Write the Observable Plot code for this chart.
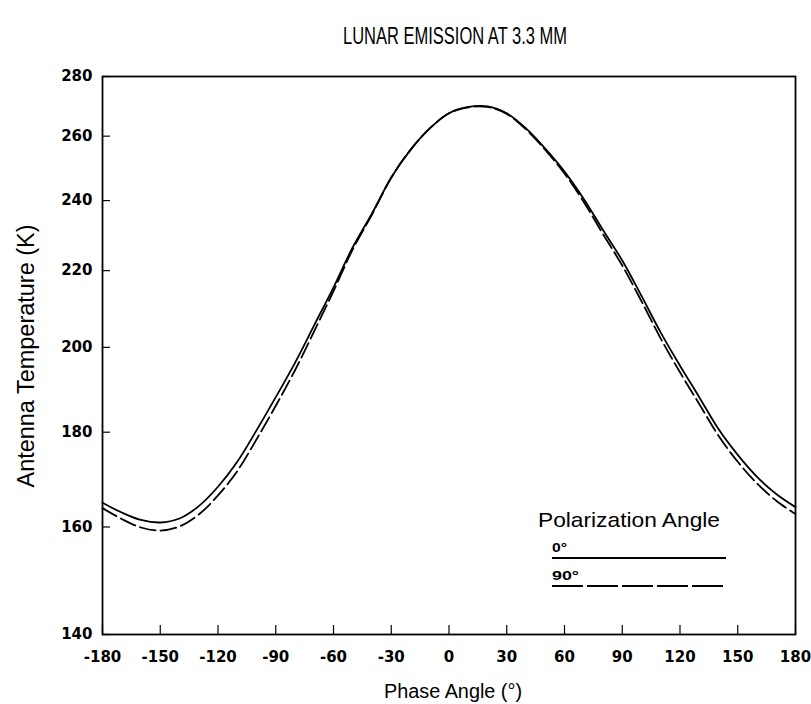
<!DOCTYPE html>
<html><head><meta charset="utf-8">
<script src="https://cdn.jsdelivr.net/npm/d3@7"></script>
<script src="https://cdn.jsdelivr.net/npm/@observablehq/plot@0.6"></script>
<style>body{margin:0;background:#fff}</style>
</head><body><div id="chart"></div>
<script>
const title = "LUNAR EMISSION AT 3.3 MM";
const xLabel = "Phase Angle (°)";
const yLabel = "Antenna Temperature (K)";
const legendTitle = "Polarization Angle";
const legendLabels = ["0°", "90°"];

const xTicks = [-180, -150, -120, -90, -60, -30, 0, 30, 60, 90, 120, 150, 180];
const yTicks = [140, 160, 180, 200, 220, 240, 260, 280];

const phase = [-180, -170, -160, -150, -140, -130, -120, -110, -100, -90, -80, -70, -60, -50, -40, -30, -20, -10,
  0, 10, 20, 30, 40, 50, 60, 70, 80, 90, 100, 110, 120, 130, 140, 150, 160, 170, 180];
const temp0 = [164.9, 162.9, 161.4, 160.9, 161.7, 164.2, 168.2, 173.5, 180.4, 188.0, 196.2, 205.6, 215.5, 226.5, 236.2, 247.0, 255.6, 262.5,
  267.5, 269.6, 269.8, 267.5, 262.5, 256.0, 248.8, 240.5, 231.4, 222.8, 213.2, 203.7, 195.5, 188.0, 180.7, 175.0, 170.3, 166.7, 164.0];
const temp90 = [163.8, 161.6, 159.9, 159.3, 160.1, 162.5, 166.4, 171.5, 178.4, 186.0, 194.4, 204.1, 214.5, 225.9, 235.9, 246.9, 255.6, 262.5,
  267.5, 269.5, 269.6, 267.3, 262.2, 255.6, 248.2, 239.6, 230.2, 221.4, 211.8, 202.2, 193.9, 186.4, 179.2, 173.5, 168.9, 165.3, 162.6];

const FONT = "Liberation Sans, Arial, Helvetica, sans-serif";
const TICKFONT = "DejaVu Sans, Verdana, sans-serif";
const rows0 = phase.map((p, i) => ({p, t: temp0[i]}));
const rows90 = phase.map((p, i) => ({p, t: temp90[i]}));

const plot = Plot.plot({
  width: 811,
  height: 704,
  marginTop: 76,
  marginBottom: 70,
  marginLeft: 102,
  marginRight: 16,
  style: {fontFamily: FONT, background: "#fff", color: "#000"},
  x: {domain: [-180, 180], axis: null},
  y: {type: "log", domain: [140, 280], axis: null},
  marks: [
    Plot.frame({stroke: "#000", strokeWidth: 1.8}),
    Plot.axisX({ticks: xTicks, tickSize: -9, tickPadding: 26, tickFormat: d => String(d), fontFamily: TICKFONT, fontSize: 15, fontWeight: "bold", strokeWidth: 1.2, label: null}),
    Plot.axisY({ticks: yTicks, tickSize: -8, tickPadding: 18, tickFormat: d => String(d), fontFamily: TICKFONT, fontSize: 15, fontWeight: "bold", strokeWidth: 1.2, label: null}),
    Plot.line(rows0, {x: "p", y: "t", curve: "catmull-rom", stroke: "#000", strokeWidth: 1.8}),
    Plot.line(rows90, {x: "p", y: "t", curve: "catmull-rom", stroke: "#000", strokeWidth: 1.8, strokeDasharray: "16,5"})
  ]
});

const svg = d3.select(plot);
const g = svg.append("g").attr("font-family", FONT).attr("fill", "#000");
function label(txt, x, y, size, len, opts = {}) {
  const t = g.append("text").attr("x", x).attr("y", y).attr("font-size", size)
    .attr("text-anchor", opts.anchor || "middle").attr("dominant-baseline", "middle").text(txt);
  if (len) t.attr("textLength", len).attr("lengthAdjust", "spacingAndGlyphs");
  if (opts.rotate) t.attr("transform", `rotate(${opts.rotate},${x},${y})`);
  if (opts.weight) t.attr("font-weight", opts.weight);
  return t;
}
label(title, 455, 38, 23, 224);
label(xLabel, 453, 693, 20, 138);
label(yLabel, 28, 356, 23, 263, {rotate: -90});
label(legendTitle, 538, 521, 21, 182, {anchor: "start"});
label(legendLabels[0], 552, 549, 13, 15, {anchor: "start", weight: "bold"});
label(legendLabels[1], 552, 577, 13, 27, {anchor: "start", weight: "bold"});
g.append("line").attr("x1", 552).attr("x2", 726).attr("y1", 558).attr("y2", 558).attr("stroke", "#000").attr("stroke-width", 1.8);
g.append("line").attr("x1", 552).attr("x2", 726).attr("y1", 586).attr("y2", 586).attr("stroke", "#000").attr("stroke-width", 1.8).attr("stroke-dasharray", "31,4");

document.getElementById("chart").appendChild(plot);
</script>
</body></html>
